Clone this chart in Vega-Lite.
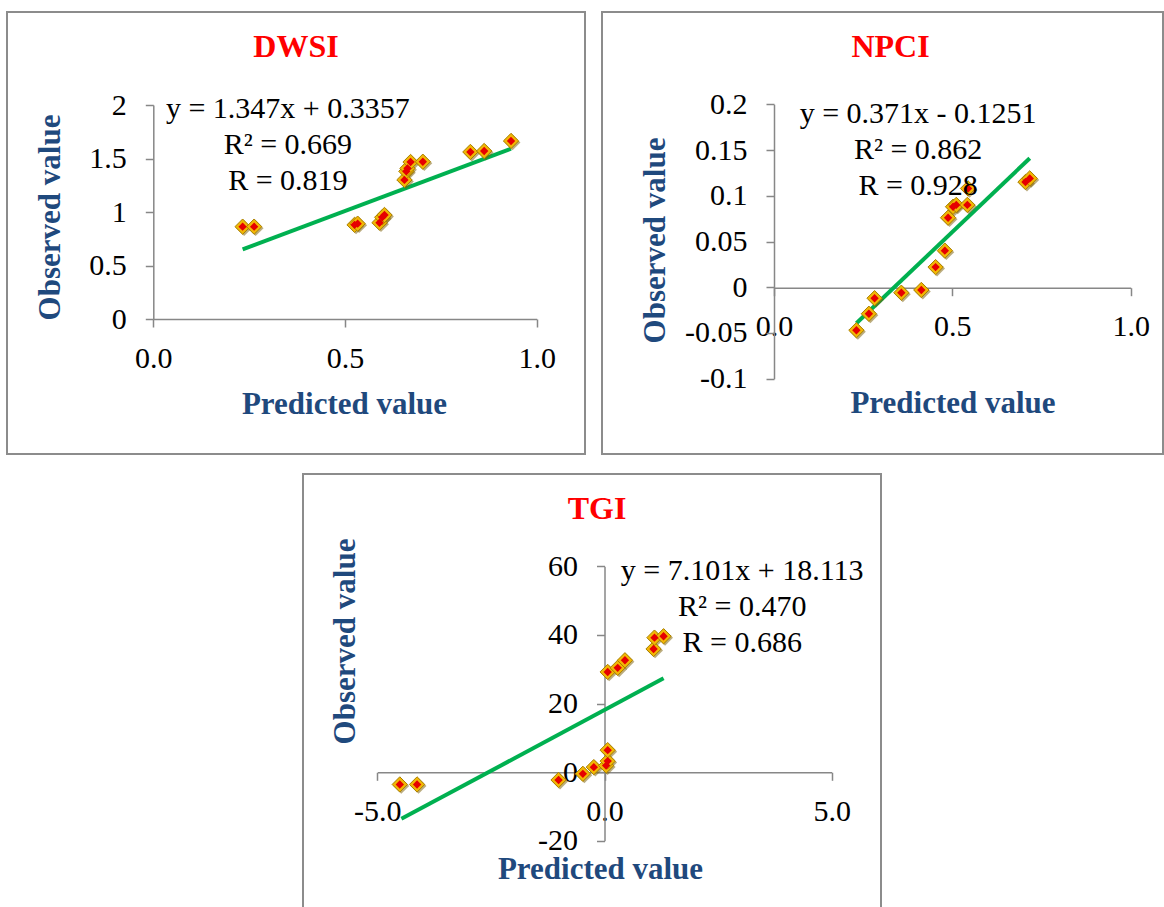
{
  "$schema": "https://vega.github.io/schema/vega-lite/v6.json",
  "padding": {"left": 6, "top": 11, "right": 0, "bottom": 0},
  "background": "white",
  "config": {
    "font": "Liberation Serif",
    "view": {"stroke": "#8c8c8c", "strokeWidth": 2},
    "axis": {
      "grid": false,
      "labelFont": "Liberation Serif",
      "labelFontSize": 30,
      "labelColor": "#000000",
      "labelOverlap": false,
      "labelFlush": false,
      "labelBound": false,
      "titleFont": "Liberation Serif",
      "titleFontSize": 31,
      "titleFontWeight": "bold",
      "titleColor": "#1F497D",
      "titleBaseline": "alphabetic",
      "domainColor": "#878787",
      "domainWidth": 1.5,
      "tickColor": "#878787",
      "tickWidth": 1.5,
      "tickSize": 8,
      "labelExpr": "replace(datum.label, '\u2212', '-')"
    },
    "axisX": {"labelBaseline": "middle", "labelPadding": 31},
    "axisY": {"labelPadding": 19},
    "title": {"font": "Liberation Serif", "fontSize": 32, "fontWeight": "bold", "color": "#FF0000", "anchor": "middle", "baseline": "alphabetic"},
    "text": {"font": "Liberation Serif", "fontSize": 30, "color": "#000000", "align": "center", "baseline": "middle", "lineHeight": 36, "lineBreak": "\n"}
  },
  "datasets": {
    "dwsi": [
      {"pred": 0.233, "obs": 0.863}, {"pred": 0.263, "obs": 0.863}, {"pred": 0.525, "obs": 0.880},
      {"pred": 0.533, "obs": 0.891}, {"pred": 0.590, "obs": 0.900}, {"pred": 0.597, "obs": 0.950},
      {"pred": 0.603, "obs": 0.972}, {"pred": 0.655, "obs": 1.300}, {"pred": 0.660, "obs": 1.380},
      {"pred": 0.663, "obs": 1.408}, {"pred": 0.671, "obs": 1.467}, {"pred": 0.703, "obs": 1.470},
      {"pred": 0.827, "obs": 1.561}, {"pred": 0.863, "obs": 1.570}, {"pred": 0.933, "obs": 1.664}
    ],
    "dwsiTrend": [{"pred": 0.233, "obs": 0.650}, {"pred": 0.933, "obs": 1.592}],
    "dwsiEq": [{"eq": "y = 1.347x + 0.3357\nR² = 0.669\nR = 0.819"}],
    "npci": [
      {"pred": 0.231, "obs": -0.047}, {"pred": 0.266, "obs": -0.029}, {"pred": 0.282, "obs": -0.012},
      {"pred": 0.357, "obs": -0.006}, {"pred": 0.413, "obs": -0.003}, {"pred": 0.453, "obs": 0.022},
      {"pred": 0.479, "obs": 0.040}, {"pred": 0.488, "obs": 0.076}, {"pred": 0.502, "obs": 0.088},
      {"pred": 0.511, "obs": 0.090}, {"pred": 0.542, "obs": 0.090}, {"pred": 0.544, "obs": 0.108},
      {"pred": 0.705, "obs": 0.115}, {"pred": 0.717, "obs": 0.119}
    ],
    "npciTrend": [{"pred": 0.231, "obs": -0.0394}, {"pred": 0.717, "obs": 0.141}],
    "npciEq": [{"eq": "y = 0.371x - 0.1251\nR² = 0.862\nR = 0.928"}],
    "tgi": [
      {"pred": -4.505, "obs": -3.6}, {"pred": -4.125, "obs": -3.6}, {"pred": -1.011, "obs": -2.3},
      {"pred": -0.476, "obs": -0.5}, {"pred": -0.235, "obs": 1.45}, {"pred": 0.036, "obs": 1.9},
      {"pred": 0.07, "obs": 3.2}, {"pred": 0.07, "obs": 6.4}, {"pred": 0.07, "obs": 29.2},
      {"pred": 0.29, "obs": 30.4}, {"pred": 0.45, "obs": 32.6}, {"pred": 1.08, "obs": 35.9},
      {"pred": 1.10, "obs": 39.2}, {"pred": 1.30, "obs": 39.6}
    ],
    "tgiTrend": [{"pred": -4.47, "obs": -13.63}, {"pred": 1.30, "obs": 27.34}],
    "tgiEq": [{"eq": "y = 7.101x + 18.113\nR² = 0.470\nR = 0.686"}]
  },
  "vconcat": [
    {
      "hconcat": [
        {
          "width": 578, "height": 442,
          "title": {"text": "DWSI", "offset": -52},
          "resolve": {"axis": {"x": "independent", "y": "independent"}},
          "layer": [
            {
              "encoding": {
                "x": {"field": "pred", "type": "quantitative",
                  "scale": {"domain": [0, 1], "range": [146.3, 529.7], "nice": false, "zero": false},
                  "axis": {"values": [0, 0.5, 1], "format": ".1f", "offset": -135, "title": "Predicted value", "titleX": 337, "titleY": 94}},
                "y": {"field": "obs", "type": "quantitative",
                  "scale": {"domain": [0, 2], "range": [307, 93], "nice": false, "zero": false},
                  "axis": {"values": [0, 0.5, 1, 1.5, 2], "format": "~g", "offset": -146.3, "title": "Observed value", "titleX": -94, "titleY": 205}}
              },
              "layer": [
                {"data": {"name": "dwsiTrend"}, "mark": {"type": "line", "color": "#00B050", "strokeWidth": 4}},
                {"data": {"name": "dwsi"}, "mark": {"type": "point", "shape": "diamond", "filled": true, "size": 250, "color": "#7a5c00", "opacity": 0.5, "xOffset": 1.5, "yOffset": 1.5}},
                {"data": {"name": "dwsi"}, "mark": {"type": "point", "shape": "diamond", "filled": true, "size": 235, "fill": "#F2B705", "stroke": "#A87F00", "strokeWidth": 1, "opacity": 1}},
                {"data": {"name": "dwsi"}, "mark": {"type": "point", "shape": "diamond", "filled": true, "size": 70, "color": "#E60000", "opacity": 1}}
              ]
            },
            {"data": {"name": "dwsiEq"},
              "mark": {"type": "text"},
              "encoding": {
                "x": {"datum": 0.351, "type": "quantitative", "axis": null},
                "y": {"datum": 1.963, "type": "quantitative", "axis": null},
                "text": {"field": "eq"}
              }}
          ]
        },
        {
          "width": 561, "height": 442,
          "title": {"text": "NPCI", "offset": -52, "dx": 8},
          "resolve": {"axis": {"x": "independent", "y": "independent"}},
          "layer": [
            {
              "encoding": {
                "x": {"field": "pred", "type": "quantitative",
                  "scale": {"domain": [0, 1], "range": [172, 528.7], "nice": false, "zero": false},
                  "axis": {"values": [0, 0.5, 1], "format": ".1f", "offset": -166.3, "title": "Predicted value", "titleX": 350.5, "titleY": 125}},
                "y": {"field": "obs", "type": "quantitative",
                  "scale": {"domain": [-0.1, 0.2], "range": [366.7, 92.3], "nice": false, "zero": false},
                  "axis": {"values": [-0.1, -0.05, 0, 0.05, 0.1, 0.15, 0.2], "format": "~g", "offset": -172, "title": "Observed value", "titleX": -110, "titleY": 228}}
              },
              "layer": [
                {"data": {"name": "npciTrend"}, "mark": {"type": "line", "color": "#00B050", "strokeWidth": 4}},
                {"data": {"name": "npci"}, "mark": {"type": "point", "shape": "diamond", "filled": true, "size": 250, "color": "#7a5c00", "opacity": 0.5, "xOffset": 1.5, "yOffset": 1.5}},
                {"data": {"name": "npci"}, "mark": {"type": "point", "shape": "diamond", "filled": true, "size": 235, "fill": "#F2B705", "stroke": "#A87F00", "strokeWidth": 1, "opacity": 1}},
                {"data": {"name": "npci"}, "mark": {"type": "point", "shape": "diamond", "filled": true, "size": 70, "color": "#E60000", "opacity": 1}}
              ]
            },
            {"data": {"name": "npciEq"},
              "mark": {"type": "text"},
              "encoding": {
                "x": {"datum": 0.404, "type": "quantitative", "axis": null},
                "y": {"datum": 0.1899, "type": "quantitative",
                  "axis": {"orient": "right", "labels": false, "ticks": false, "domain": false, "title": null, "minExtent": 14, "maxExtent": 14}},
                "text": {"field": "eq"}
              }}
          ]
        }
      ],
      "spacing": 15
    },
    {
      "width": 578, "height": 440,
      "title": {"text": "TGI", "offset": -52, "dx": 5},
      "resolve": {"axis": {"x": "independent", "y": "independent"}},
      "layer": [
        {
          "encoding": {
            "x": {"field": "pred", "type": "quantitative",
              "scale": {"domain": [-5, 5], "range": [74.3, 528.7], "nice": false, "zero": false},
              "axis": {"values": [-5, 0, 5], "format": ".1f", "offset": -141.7, "title": "Predicted value", "titleX": 297, "titleY": 105.7}},
            "y": {"field": "obs", "type": "quantitative",
              "scale": {"domain": [-20, 60], "range": [366.7, 92.3], "nice": false, "zero": false},
              "axis": {"values": [-20, 0, 20, 40, 60], "format": "d", "offset": -301.5, "title": "Observed value", "titleX": -250, "titleY": 167}}
          },
          "layer": [
            {"data": {"name": "tgiTrend"}, "mark": {"type": "line", "color": "#00B050", "strokeWidth": 4}},
            {"data": {"name": "tgi"}, "mark": {"type": "point", "shape": "diamond", "filled": true, "size": 250, "color": "#7a5c00", "opacity": 0.5, "xOffset": 1.5, "yOffset": 1.5}},
            {"data": {"name": "tgi"}, "mark": {"type": "point", "shape": "diamond", "filled": true, "size": 235, "fill": "#F2B705", "stroke": "#A87F00", "strokeWidth": 1, "opacity": 1}},
            {"data": {"name": "tgi"}, "mark": {"type": "point", "shape": "diamond", "filled": true, "size": 70, "color": "#E60000", "opacity": 1}}
          ]
        },
        {"data": {"name": "tgiEq"},
          "mark": {"type": "text"},
          "encoding": {
            "x": {"datum": 3.03, "type": "quantitative", "axis": null},
            "y": {"datum": 58.7, "type": "quantitative", "axis": null},
            "text": {"field": "eq"}
          }}
      ]
    }
  ],
  "spacing": 18,
  "center": true
}
